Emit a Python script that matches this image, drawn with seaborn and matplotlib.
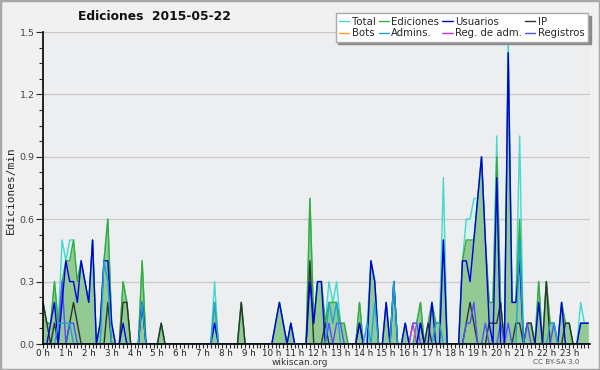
import pandas as pd
import seaborn as sns
import matplotlib.pyplot as plt
from matplotlib.patches import Rectangle
from matplotlib.ticker import MultipleLocator

sns.set_style("ticks")
plt.rcParams['font.family'] = ['DejaVu Sans']

# 10-minute slots over the day (0 .. 143)
slots = list(range(144))
hour_labels = [f"{h} h" for h in range(24)]
ytick_vals = [0.0, 0.3, 0.6, 0.9, 1.2, 1.5]
ytick_labels = ["0.0", "0.3", "0.6", "0.9", "1.2", "1.5"]

# edits per minute, one row = 2 hours
total = [
    0.2, 0.1, 0.1, 0.3, 0.1, 0.5, 0.4, 0.5, 0.5, 0.3, 0.4, 0.3,
    0.2, 0.5, 0.0, 0.1, 0.4, 0.6, 0.1, 0.0, 0.0, 0.3, 0.2, 0.0,
    0.0, 0.0, 0.4, 0.0, 0.0, 0.0, 0.0, 0.1, 0.0, 0.0, 0.0, 0.0,
    0.0, 0.0, 0.0, 0.0, 0.0, 0.0, 0.0, 0.0, 0.0, 0.3, 0.0, 0.0,
    0.0, 0.0, 0.0, 0.0, 0.2, 0.0, 0.0, 0.0, 0.0, 0.0, 0.0, 0.0,
    0.0, 0.1, 0.2, 0.1, 0.0, 0.1, 0.0, 0.0, 0.0, 0.0, 0.7, 0.1,
    0.3, 0.3, 0.1, 0.3, 0.2, 0.3, 0.1, 0.1, 0.0, 0.0, 0.0, 0.2,
    0.0, 0.1, 0.4, 0.3, 0.0, 0.0, 0.2, 0.0, 0.3, 0.0, 0.0, 0.1,
    0.0, 0.1, 0.1, 0.2, 0.0, 0.1, 0.2, 0.1, 0.1, 0.8, 0.0, 0.0,
    0.0, 0.0, 0.4, 0.6, 0.6, 0.7, 0.7, 0.9, 0.5, 0.2, 0.2, 1.0,
    0.2, 0.0, 1.5, 0.2, 0.2, 1.0, 0.0, 0.1, 0.1, 0.0, 0.3, 0.0,
    0.3, 0.1, 0.1, 0.0, 0.2, 0.1, 0.1, 0.0, 0.0, 0.2, 0.1, 0.1,
]
ediciones = [
    0.2, 0.1, 0.1, 0.3, 0.1, 0.3, 0.4, 0.4, 0.5, 0.3, 0.4, 0.3,
    0.2, 0.5, 0.0, 0.1, 0.4, 0.6, 0.1, 0.0, 0.0, 0.3, 0.2, 0.0,
    0.0, 0.0, 0.4, 0.0, 0.0, 0.0, 0.0, 0.1, 0.0, 0.0, 0.0, 0.0,
    0.0, 0.0, 0.0, 0.0, 0.0, 0.0, 0.0, 0.0, 0.0, 0.2, 0.0, 0.0,
    0.0, 0.0, 0.0, 0.0, 0.2, 0.0, 0.0, 0.0, 0.0, 0.0, 0.0, 0.0,
    0.0, 0.1, 0.2, 0.1, 0.0, 0.1, 0.0, 0.0, 0.0, 0.0, 0.7, 0.1,
    0.3, 0.3, 0.1, 0.2, 0.2, 0.2, 0.1, 0.1, 0.0, 0.0, 0.0, 0.2,
    0.0, 0.0, 0.4, 0.3, 0.0, 0.0, 0.2, 0.0, 0.3, 0.0, 0.0, 0.1,
    0.0, 0.0, 0.1, 0.2, 0.0, 0.1, 0.2, 0.1, 0.1, 0.5, 0.0, 0.0,
    0.0, 0.0, 0.4, 0.5, 0.5, 0.5, 0.7, 0.9, 0.5, 0.2, 0.2, 0.9,
    0.2, 0.0, 1.4, 0.2, 0.2, 0.6, 0.0, 0.1, 0.1, 0.0, 0.3, 0.0,
    0.3, 0.1, 0.1, 0.0, 0.2, 0.1, 0.1, 0.0, 0.0, 0.1, 0.1, 0.1,
]
usuarios = [
    0.0, 0.0, 0.1, 0.2, 0.0, 0.2, 0.4, 0.3, 0.3, 0.2, 0.4, 0.3,
    0.2, 0.5, 0.0, 0.1, 0.4, 0.4, 0.1, 0.0, 0.0, 0.1, 0.0, 0.0,
    0.0, 0.0, 0.2, 0.0, 0.0, 0.0, 0.0, 0.0, 0.0, 0.0, 0.0, 0.0,
    0.0, 0.0, 0.0, 0.0, 0.0, 0.0, 0.0, 0.0, 0.0, 0.1, 0.0, 0.0,
    0.0, 0.0, 0.0, 0.0, 0.0, 0.0, 0.0, 0.0, 0.0, 0.0, 0.0, 0.0,
    0.0, 0.1, 0.2, 0.1, 0.0, 0.1, 0.0, 0.0, 0.0, 0.0, 0.3, 0.1,
    0.3, 0.3, 0.0, 0.0, 0.0, 0.0, 0.0, 0.0, 0.0, 0.0, 0.0, 0.1,
    0.0, 0.0, 0.4, 0.3, 0.0, 0.0, 0.2, 0.0, 0.3, 0.0, 0.0, 0.1,
    0.0, 0.0, 0.0, 0.1, 0.0, 0.0, 0.2, 0.0, 0.0, 0.5, 0.0, 0.0,
    0.0, 0.0, 0.4, 0.4, 0.3, 0.5, 0.7, 0.9, 0.5, 0.1, 0.0, 0.8,
    0.0, 0.0, 1.4, 0.2, 0.2, 0.4, 0.0, 0.0, 0.0, 0.0, 0.2, 0.0,
    0.0, 0.0, 0.0, 0.0, 0.2, 0.0, 0.0, 0.0, 0.0, 0.1, 0.1, 0.1,
]
ip = [
    0.2, 0.1, 0.0, 0.1, 0.0, 0.0, 0.0, 0.1, 0.2, 0.1, 0.0, 0.0,
    0.0, 0.0, 0.0, 0.0, 0.0, 0.2, 0.0, 0.0, 0.0, 0.2, 0.2, 0.0,
    0.0, 0.0, 0.2, 0.0, 0.0, 0.0, 0.0, 0.1, 0.0, 0.0, 0.0, 0.0,
    0.0, 0.0, 0.0, 0.0, 0.0, 0.0, 0.0, 0.0, 0.0, 0.0, 0.0, 0.0,
    0.0, 0.0, 0.0, 0.0, 0.2, 0.0, 0.0, 0.0, 0.0, 0.0, 0.0, 0.0,
    0.0, 0.0, 0.0, 0.0, 0.0, 0.0, 0.0, 0.0, 0.0, 0.0, 0.4, 0.0,
    0.0, 0.0, 0.1, 0.0, 0.0, 0.0, 0.0, 0.0, 0.0, 0.0, 0.0, 0.1,
    0.0, 0.0, 0.0, 0.0, 0.0, 0.0, 0.0, 0.0, 0.0, 0.0, 0.0, 0.0,
    0.0, 0.0, 0.0, 0.1, 0.0, 0.1, 0.0, 0.0, 0.0, 0.0, 0.0, 0.0,
    0.0, 0.0, 0.0, 0.1, 0.2, 0.1, 0.0, 0.0, 0.0, 0.1, 0.1, 0.1,
    0.2, 0.0, 0.0, 0.0, 0.1, 0.1, 0.0, 0.1, 0.1, 0.0, 0.0, 0.0,
    0.3, 0.0, 0.0, 0.0, 0.0, 0.1, 0.1, 0.0, 0.0, 0.0, 0.0, 0.0,
]
admins = [
    0.0, 0.0, 0.0, 0.0, 0.1, 0.1, 0.1, 0.1, 0.0, 0.0, 0.0, 0.0,
    0.0, 0.0, 0.0, 0.0, 0.4, 0.3, 0.0, 0.0, 0.0, 0.0, 0.0, 0.0,
    0.0, 0.0, 0.2, 0.0, 0.0, 0.0, 0.0, 0.0, 0.0, 0.0, 0.0, 0.0,
    0.0, 0.0, 0.0, 0.0, 0.0, 0.0, 0.0, 0.0, 0.0, 0.2, 0.0, 0.0,
    0.0, 0.0, 0.0, 0.0, 0.0, 0.0, 0.0, 0.0, 0.0, 0.0, 0.0, 0.0,
    0.0, 0.0, 0.0, 0.0, 0.0, 0.0, 0.0, 0.0, 0.0, 0.0, 0.0, 0.0,
    0.0, 0.0, 0.0, 0.2, 0.1, 0.2, 0.0, 0.0, 0.0, 0.0, 0.0, 0.0,
    0.0, 0.1, 0.0, 0.2, 0.0, 0.0, 0.0, 0.0, 0.3, 0.0, 0.0, 0.0,
    0.0, 0.0, 0.0, 0.0, 0.0, 0.0, 0.0, 0.1, 0.1, 0.0, 0.0, 0.0,
    0.0, 0.0, 0.0, 0.0, 0.0, 0.0, 0.0, 0.0, 0.0, 0.0, 0.0, 0.0,
    0.0, 0.0, 0.0, 0.0, 0.0, 0.5, 0.0, 0.0, 0.0, 0.0, 0.0, 0.0,
    0.0, 0.1, 0.1, 0.0, 0.0, 0.0, 0.0, 0.0, 0.0, 0.0, 0.0, 0.0,
]
registros = [
    0.0, 0.0, 0.0, 0.0, 0.0, 0.3, 0.0, 0.1, 0.1, 0.0, 0.0, 0.0,
    0.0, 0.0, 0.0, 0.0, 0.0, 0.0, 0.0, 0.0, 0.0, 0.0, 0.0, 0.0,
    0.0, 0.0, 0.0, 0.0, 0.0, 0.0, 0.0, 0.0, 0.0, 0.0, 0.0, 0.0,
    0.0, 0.0, 0.0, 0.0, 0.0, 0.0, 0.0, 0.0, 0.0, 0.1, 0.0, 0.0,
    0.0, 0.0, 0.0, 0.0, 0.0, 0.0, 0.0, 0.0, 0.0, 0.0, 0.0, 0.0,
    0.0, 0.0, 0.0, 0.0, 0.0, 0.0, 0.0, 0.0, 0.0, 0.0, 0.0, 0.0,
    0.0, 0.0, 0.0, 0.1, 0.0, 0.1, 0.1, 0.0, 0.0, 0.0, 0.0, 0.0,
    0.0, 0.0, 0.0, 0.0, 0.0, 0.0, 0.0, 0.0, 0.0, 0.0, 0.0, 0.0,
    0.0, 0.1, 0.1, 0.0, 0.0, 0.0, 0.0, 0.0, 0.0, 0.0, 0.0, 0.0,
    0.0, 0.0, 0.0, 0.1, 0.1, 0.2, 0.0, 0.0, 0.1, 0.0, 0.0, 0.0,
    0.1, 0.0, 0.1, 0.0, 0.0, 0.0, 0.0, 0.1, 0.0, 0.0, 0.0, 0.0,
    0.0, 0.0, 0.1, 0.0, 0.0, 0.0, 0.0, 0.0, 0.0, 0.0, 0.0, 0.0,
]
reg_adm = [
    0.0, 0.0, 0.0, 0.0, 0.0, 0.0, 0.0, 0.0, 0.0, 0.0, 0.0, 0.0,
    0.0, 0.0, 0.0, 0.0, 0.0, 0.0, 0.0, 0.0, 0.0, 0.0, 0.0, 0.0,
    0.0, 0.0, 0.0, 0.0, 0.0, 0.0, 0.0, 0.0, 0.0, 0.0, 0.0, 0.0,
    0.0, 0.0, 0.0, 0.0, 0.0, 0.0, 0.0, 0.0, 0.0, 0.0, 0.0, 0.0,
    0.0, 0.0, 0.0, 0.0, 0.0, 0.0, 0.0, 0.0, 0.0, 0.0, 0.0, 0.0,
    0.0, 0.0, 0.0, 0.0, 0.0, 0.0, 0.0, 0.0, 0.0, 0.0, 0.0, 0.0,
    0.0, 0.0, 0.0, 0.0, 0.0, 0.0, 0.0, 0.0, 0.0, 0.0, 0.0, 0.0,
    0.0, 0.0, 0.0, 0.0, 0.0, 0.0, 0.0, 0.0, 0.0, 0.0, 0.0, 0.0,
    0.0, 0.1, 0.0, 0.0, 0.0, 0.0, 0.0, 0.0, 0.0, 0.0, 0.0, 0.0,
    0.0, 0.0, 0.0, 0.0, 0.0, 0.0, 0.0, 0.0, 0.0, 0.0, 0.0, 0.0,
    0.0, 0.0, 0.0, 0.0, 0.0, 0.0, 0.0, 0.0, 0.0, 0.0, 0.0, 0.0,
    0.0, 0.0, 0.0, 0.0, 0.0, 0.0, 0.0, 0.0, 0.0, 0.0, 0.0, 0.0,
]
bots = [
    0.0, 0.0, 0.0, 0.0, 0.0, 0.0, 0.0, 0.0, 0.0, 0.0, 0.0, 0.0,
    0.0, 0.0, 0.0, 0.0, 0.0, 0.0, 0.0, 0.0, 0.0, 0.0, 0.0, 0.0,
    0.0, 0.0, 0.0, 0.0, 0.0, 0.0, 0.0, 0.0, 0.0, 0.0, 0.0, 0.0,
    0.0, 0.0, 0.0, 0.0, 0.0, 0.0, 0.0, 0.0, 0.0, 0.0, 0.0, 0.0,
    0.0, 0.0, 0.0, 0.0, 0.0, 0.0, 0.0, 0.0, 0.0, 0.0, 0.0, 0.0,
    0.0, 0.0, 0.0, 0.0, 0.0, 0.0, 0.0, 0.0, 0.0, 0.0, 0.0, 0.0,
    0.0, 0.0, 0.0, 0.0, 0.0, 0.0, 0.0, 0.0, 0.0, 0.0, 0.0, 0.0,
    0.0, 0.0, 0.0, 0.0, 0.0, 0.0, 0.0, 0.0, 0.0, 0.0, 0.0, 0.0,
    0.0, 0.0, 0.0, 0.0, 0.0, 0.0, 0.0, 0.0, 0.0, 0.0, 0.0, 0.0,
    0.0, 0.0, 0.0, 0.0, 0.0, 0.0, 0.0, 0.0, 0.0, 0.0, 0.0, 0.0,
    0.0, 0.0, 0.0, 0.0, 0.0, 0.0, 0.0, 0.0, 0.0, 0.0, 0.0, 0.0,
    0.0, 0.0, 0.0, 0.0, 0.0, 0.0, 0.0, 0.0, 0.0, 0.0, 0.0, 0.0,
]

df = pd.DataFrame({"slot": slots, "Total": total, "Ediciones": ediciones,
                   "Usuarios": usuarios, "IP": ip, "Bots": bots,
                   "Admins.": admins, "Reg. de adm.": reg_adm,
                   "Registros": registros})

colors = {"Total": "#44d8ce", "Ediciones": "#38aa38", "Usuarios": "#0000e0",
          "IP": "#2c342c", "Bots": "#ff9a2e", "Admins.": "#1ea4d8",
          "Reg. de adm.": "#cc3ccc", "Registros": "#5050ff"}
draw_order = ["Bots", "Total", "Ediciones", "IP", "Registros", "Reg. de adm.",
              "Usuarios", "Admins."]
legend_order = ["Total", "Bots", "Ediciones", "Admins.", "Usuarios",
                "Reg. de adm.", "IP", "Registros"]

fig = plt.figure(figsize=(6, 3.7), dpi=100, facecolor="#f1f1f1")
ax = fig.add_axes([43 / 600, 26 / 370, 547 / 600, 312 / 370])
ax.set_facecolor("#edeef0")

# filled areas
ax.fill_between(df["slot"], df["Total"], color="#d8f1ed", lw=0, zorder=1)
ax.fill_between(df["slot"], df["Ediciones"], color="#93ca93", lw=0, zorder=1.1)

for name in draw_order:
    sns.lineplot(data=df, x="slot", y=name, color=colors[name], lw=1.0,
                 label=name, ax=ax, legend=False)

ax.set_xlim(0, 143.45)
ax.set_ylim(0, 1.5)
ax.set_xticks(range(0, 144, 6))
ax.set_xticklabels(hour_labels, fontsize=6.3, color="#222")
ax.xaxis.set_minor_locator(MultipleLocator(1))
ax.set_yticks(ytick_vals)
ax.set_yticklabels(ytick_labels, fontsize=6.8, color="#444")
ax.yaxis.set_minor_locator(MultipleLocator(0.075))
ax.tick_params(axis="x", which="both", length=3, width=0.8, pad=0.5)
ax.tick_params(axis="y", which="major", length=5, width=0.8, pad=1)
ax.tick_params(axis="y", which="minor", length=3, width=0.8)
ax.set_xlabel("")
ax.set_ylabel("")
ax.yaxis.grid(True, color="#c9c9c9", lw=0.9)
ax.set_axisbelow(True)
for s in ["top", "right"]:
    ax.spines[s].set_visible(False)
for s in ["left", "bottom"]:
    ax.spines[s].set_linewidth(1.2)
    ax.spines[s].set_color("black")
    ax.spines[s].set_zorder(5)

# legend
handles = {l.get_label(): l for l in ax.get_lines()}
leg = fig.legend([handles[n] for n in legend_order], legend_order, ncol=4,
                 loc="upper right", bbox_to_anchor=(593 / 600, 1 - 8 / 370),
                 fontsize=7.3, frameon=True, fancybox=False,
                 shadow={"color": "#8a8a8a", "alpha": 1},
                 handlelength=1.0, handletextpad=0.25, columnspacing=0.3,
                 labelspacing=0.15, borderpad=0.35, framealpha=1)
leg.get_frame().set_edgecolor("#aaaaaa")
leg.get_frame().set_facecolor("white")

fig.text(154 / 600, 1 - 16 / 370, "Ediciones  2015-05-22", fontsize=8.8,
         weight="bold", ha="center", va="center", color="#111")
fig.text(11 / 600, 1 - 190 / 370, "Ediciones/min", rotation=90, fontsize=8,
         family="DejaVu Sans Mono", ha="center", va="center", color="#222")
fig.text(300 / 600, 1 - 362.5 / 370, "wikiscan.org", fontsize=6.5, ha="center",
         va="center", color="#333")
fig.text(556 / 600, 1 - 362.5 / 370, "CC BY-SA 3.0", fontsize=5.2, ha="center",
         va="center", color="#555")
fig.add_artist(Rectangle((0, 0), 1, 1, transform=fig.transFigure, fill=False,
                         edgecolor="#a8a8a8", lw=2.5))

fig.savefig("out.png", dpi=100, facecolor=fig.get_facecolor())
